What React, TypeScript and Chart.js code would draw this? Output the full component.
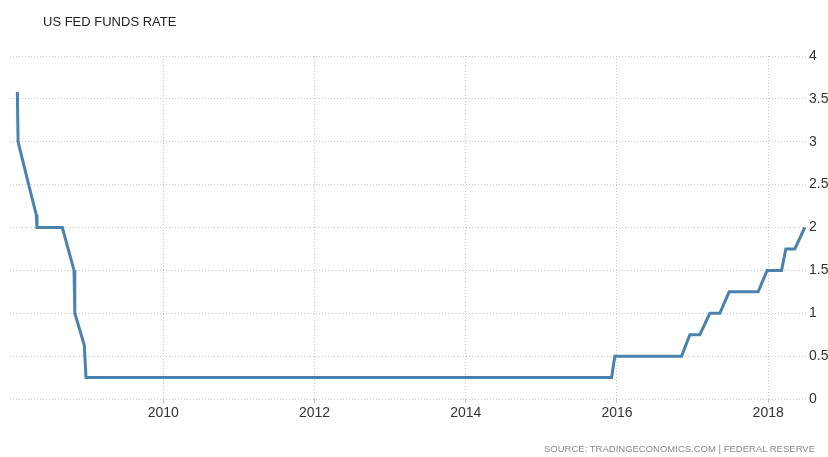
import React, { useEffect, useRef } from "react";
import { Chart, registerables } from "chart.js";

Chart.register(...registerables);

// Decimal-year dates of each vertex
const dates: number[] = [
  2008.07, 2008.08, 2008.214, 2008.32, 2008.33, 2008.665, 2008.82, 2008.83,
  2008.955, 2008.978, 2015.929, 2015.972, 2016.855, 2016.964, 2017.096,
  2017.228, 2017.36, 2017.484, 2017.867, 2017.986, 2018.177, 2018.233,
  2018.352, 2018.484,
];
// Fed funds rate (%) at those dates
const rates: number[] = [
  3.58, 3.0, 2.52, 2.15, 2.0, 2.0, 1.5, 1.0, 0.63, 0.25, 0.25, 0.5, 0.5, 0.75,
  0.75, 1.0, 1.0, 1.25, 1.25, 1.5, 1.5, 1.75, 1.75, 2.0,
];
const xTickYears: number[] = [2010, 2012, 2014, 2016, 2018];
const yTickValues: number[] = [0, 0.5, 1, 1.5, 2, 2.5, 3, 3.5, 4];

const TITLE = "US FED FUNDS RATE";
const SOURCE = "SOURCE: TRADINGECONOMICS.COM | FEDERAL RESERVE";

export default function App() {
  const canvasRef = useRef<HTMLCanvasElement | null>(null);

  useEffect(() => {
    document.body.style.margin = "0";
    const canvas = canvasRef.current;
    if (!canvas) return;
    const font = { family: "'Liberation Sans', Arial, sans-serif", size: 14 };
    const chart = new Chart(canvas, {
      type: "line",
      data: {
        datasets: [
          {
            data: dates.map((d, i) => ({ x: d, y: rates[i] })),
            borderColor: "#4a82ae",
            borderWidth: 3,
            pointRadius: 0,
            tension: 0,
            fill: false,
          },
        ],
      },
      options: {
        animation: false,
        responsive: false,
        maintainAspectRatio: false,
        layout: { padding: { left: 10, right: 0, top: 56, bottom: 0 } },
        plugins: {
          legend: { display: false },
          tooltip: { enabled: false },
          title: { display: false },
        },
        scales: {
          x: {
            type: "linear",
            min: 2007.973,
            max: 2018.5,
            afterBuildTicks: (scale: any) => {
              scale.ticks = xTickYears.map((v) => ({ value: v }));
            },
            afterFit: (scale: any) => {
              scale.height = 58;
            },
            ticks: {
              color: "#333333",
              font,
              padding: 2,
              maxRotation: 0,
              autoSkip: false,
              callback: (v: any) => String(v),
            },
            grid: {
              color: "#c8c8c8",
              lineWidth: 1,
              drawTicks: true,
              tickLength: 4,
            },
            border: { display: false, dash: [1, 2] },
          },
          y: {
            type: "linear",
            position: "right",
            min: 0,
            max: 4,
            afterBuildTicks: (scale: any) => {
              scale.ticks = yTickValues.map((v) => ({ value: v }));
            },
            afterFit: (scale: any) => {
              scale.width = 22;
            },
            ticks: {
              color: "#333333",
              font,
              padding: 3,
              autoSkip: false,
              callback: (v: any) => String(v),
            },
            grid: {
              color: "#c8c8c8",
              lineWidth: 1,
              drawTicks: false,
            },
            border: { display: false, dash: [1, 2] },
          },
        },
      },
    });
    return () => chart.destroy();
  }, []);

  return (
    <div style={{ position: "relative", width: 828, height: 457, background: "#fff", overflow: "hidden" }}>
      <canvas ref={canvasRef} width={828} height={457} style={{ position: "absolute", left: 0, top: 0, width: 828, height: 457 }} />
      <div
        style={{
          position: "absolute",
          left: 43,
          top: 14,
          fontFamily: "'Liberation Sans', Arial, sans-serif",
          fontSize: 13,
          lineHeight: "15px",
          color: "#222222",
          whiteSpace: "nowrap",
        }}
      >
        {TITLE}
      </div>
      <div
        style={{
          position: "absolute",
          right: 13,
          top: 443,
          fontFamily: "'Liberation Sans', Arial, sans-serif",
          fontSize: 9.5,
          lineHeight: "11px",
          color: "#8a8a8a",
          whiteSpace: "nowrap",
        }}
      >
        {SOURCE}
      </div>
    </div>
  );
}
